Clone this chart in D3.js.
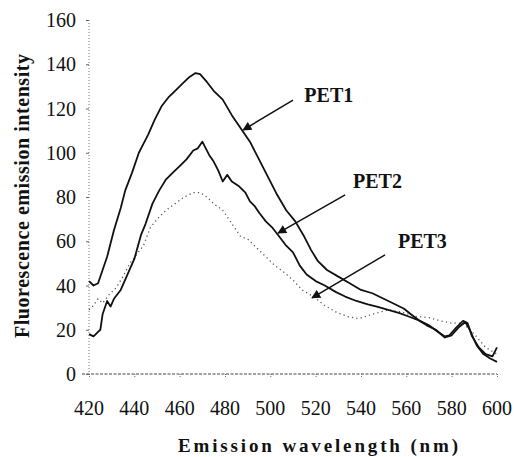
<!DOCTYPE html>
<html>
<head>
<meta charset="utf-8">
<script src="https://cdn.jsdelivr.net/npm/d3@7"></script>
<style>
  body { margin: 0; background: #fff; }
  svg { display: block; }
  .tick-label { font-family: "Liberation Serif", "DejaVu Serif", Times, serif; font-size: 20px; fill: #111; }
  .title { font-family: "Liberation Serif", "DejaVu Serif", Times, serif; font-weight: bold; fill: #111; }
  .line { fill: none; stroke: #111; stroke-width: 1.8; stroke-linejoin: round; }
  .dotted { fill: none; stroke: #555; stroke-width: 1.3; stroke-dasharray: 1.2 3.2; }
</style>
</head>
<body>
<div id="chart"></div>
<script>
// Axis ticks
var X_TICKS = [420, 440, 460, 480, 500, 520, 540, 560, 580, 600];
var Y_TICKS = [0, 20, 40, 60, 80, 100, 120, 140, 160];

// Wavelength (nm) / intensity pairs
var PET1_NM = [420, 422, 424, 426, 428, 431, 434, 436, 439, 442, 444, 446, 449, 452, 455, 458, 461, 464, 467, 469,
  472, 475, 479, 483, 487, 491, 495, 499, 503, 507, 511, 515, 518, 521, 525, 530, 535, 540, 545, 550,
  555, 559, 562, 566, 570, 574, 577, 579, 582, 585, 587, 589, 592, 595, 598, 600];
var PET1_VAL = [42, 40, 41, 47, 53, 65, 75, 83, 91, 100, 104, 108, 115, 121, 125, 128, 131, 134, 136, 135.5,
  132, 128, 124, 117, 111, 105, 97, 89, 81, 74, 69, 62, 56, 51, 47, 44, 41, 38, 36.5, 34,
  31.5, 29.5, 27, 24, 22, 19, 17, 17.5, 21, 24, 23, 17, 12, 9, 8, 12];

var PET2_NM = [420, 422, 424, 425, 426, 428, 429.5, 431, 434, 437, 440, 443, 445, 448, 451, 454, 457, 460, 463, 466,
  468, 470, 471, 473, 475, 477, 479, 481, 483, 486, 489, 491, 493, 495, 498, 501, 504, 507, 510, 513,
  516, 520, 524, 529, 533, 538, 543, 547, 552, 557, 561, 565, 569, 573, 577, 580, 583, 586, 588, 591,
  594, 597, 600];
var PET2_VAL = [18, 17, 19, 20, 27, 33, 30.5, 34, 38, 45, 52, 63, 68, 77, 83, 88, 91, 94, 97, 101,
  102, 105, 103, 99, 96, 92, 87, 90, 87, 85, 82, 78, 76, 73, 69, 66, 62, 58, 55, 49,
  45, 42, 40, 37, 35, 33, 31.5, 30.5, 29, 27.5, 26, 24.5, 22, 20, 16.5, 17.5, 21, 23.5, 20, 13,
  9, 7, 5.5];

var PET3_NM = [420, 422, 424, 426, 429, 432, 435, 438, 441, 444, 447, 450, 454, 458, 462, 466, 469, 472, 475, 479,
  483, 487, 490, 494, 498, 502, 506, 510, 514, 519, 524, 529, 534, 539, 545, 552, 558, 564, 570, 575,
  580, 585, 590, 595, 600];
var PET3_VAL = [29, 31, 34, 32, 36, 39, 44, 50, 54, 58, 66, 70, 74, 77, 80, 82, 82, 80, 77, 74,
  68, 62, 61, 57, 53, 49, 46, 42.5, 38, 35, 31, 28, 26, 25, 27, 29, 28, 26, 25.5, 24,
  23, 23, 18, 12, 9];

// Labels with arrows: [label, label nm, label value, arrow from nm, from value, to nm, to value]
var LABELS = [
  ['PET1', 515, 123, 510, 123.8, 488, 110.3],
  ['PET2', 536.5, 84, 533, 81, 503.4, 63.7],
  ['PET3', 556.3, 57, 550.6, 53.8, 518.4, 34.4]
];

var width = 514, height = 457;

var x = d3.scaleLinear().domain([420, 600]).range([89, 497]);
var y = d3.scaleLinear().domain([0, 160]).range([374, 20]);

var svg = d3.select('#chart')
  .append('svg')
    .attr('width', width)
    .attr('height', height);

// arrow head
svg.append('defs').append('marker')
    .attr('id', 'arrow')
    .attr('viewBox', '0 0 10 10')
    .attr('refX', 9)
    .attr('refY', 5)
    .attr('markerWidth', 7)
    .attr('markerHeight', 6)
    .attr('orient', 'auto')
  .append('path')
    .attr('d', 'M0,0 L10,5 L0,10 z')
    .attr('fill', '#111');

// x axis (dotted look)
var xAxis = svg.append('g')
    .attr('transform', 'translate(0,' + y(0) + ')')
    .call(d3.axisBottom(x).tickValues(X_TICKS).tickSize(4).tickFormat(''));
xAxis.select('.domain').attr('d', 'M' + (x(420) - 7) + ',0H' + x(600))
    .attr('stroke', '#444').attr('stroke-dasharray', '3 1.5');
xAxis.selectAll('.tick line').attr('stroke', '#666').attr('stroke-dasharray', '1 1');

// y axis
var yAxis = svg.append('g')
    .attr('transform', 'translate(' + x(420) + ',0)')
    .call(d3.axisLeft(y).tickValues(Y_TICKS).tickSize(3).tickFormat(''));
yAxis.select('.domain').attr('d', 'M0,' + y(160) + 'V' + y(0))
    .attr('stroke', '#777').attr('stroke-dasharray', '1 2');
yAxis.selectAll('.tick line').attr('stroke', '#666');

// tick labels
svg.selectAll('.xlab')
  .data(X_TICKS)
  .enter().append('text')
    .attr('class', 'tick-label')
    .attr('x', function(d) { return x(d); })
    .attr('y', 415)
    .attr('text-anchor', 'middle')
    .text(function(d) { return d; });

svg.selectAll('.ylab')
  .data(Y_TICKS)
  .enter().append('text')
    .attr('class', 'tick-label')
    .attr('x', 76)
    .attr('y', function(d) { return y(d) + 7; })
    .attr('text-anchor', 'end')
    .text(function(d) { return d; });

// axis titles
svg.append('text')
    .attr('class', 'title')
    .attr('x', 178)
    .attr('y', 452)
    .attr('font-size', '19px')
    .attr('textLength', 280)
    .attr('lengthAdjust', 'spacing')
    .text('Emission wavelength (nm)');

svg.append('text')
    .attr('class', 'title')
    .attr('transform', 'translate(29,338) rotate(-90)')
    .attr('font-size', '20px')
    .attr('textLength', 284)
    .attr('lengthAdjust', 'spacing')
    .text('Fluorescence emission intensity');

// curves
var line = d3.line()
  .x(function(d) { return x(d[0]); })
  .y(function(d) { return y(d[1]); });

function pairs(nm, vals) {
  return nm.map(function(d, i) { return [d, vals[i]]; });
}

svg.append('path')
    .datum(pairs(PET3_NM, PET3_VAL))
    .attr('class', 'dotted')
    .attr('d', line);

svg.append('path')
    .datum(pairs(PET2_NM, PET2_VAL))
    .attr('class', 'line')
    .attr('d', line);

svg.append('path')
    .datum(pairs(PET1_NM, PET1_VAL))
    .attr('class', 'line')
    .attr('d', line);

// labels and arrows
LABELS.forEach(function(l) {
  svg.append('text')
      .attr('class', 'title')
      .attr('font-size', '20px')
      .attr('x', x(l[1]))
      .attr('y', y(l[2]))
      .text(l[0]);
  svg.append('line')
      .attr('x1', x(l[3])).attr('y1', y(l[4]))
      .attr('x2', x(l[5])).attr('y2', y(l[6]))
      .attr('stroke', '#111')
      .attr('stroke-width', 1.5)
      .attr('marker-end', 'url(#arrow)');
});
</script>
</body>
</html>
